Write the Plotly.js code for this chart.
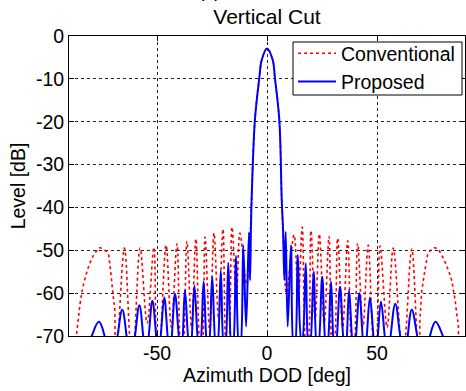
<!DOCTYPE html>
<html>
<head>
<meta charset="utf-8">
<script src="https://cdn.plot.ly/plotly-3.0.1.min.js"></script>
<style>html,body{margin:0;padding:0;background:#fff;}#plot{width:466px;height:391px;}</style>
</head>
<body>
<div id="plot"></div>
<script>
// Conventional (red dotted) pattern: azimuth [deg] and level [dB]
const convAz = [
  -90, -87.2, -86.8, -86.0, -85.3, -84.5, -83.8, -82.3, -80.8, -79.2, -77.7, -76.2, -72.4, -71.5, -70.8, -70.2, -69.7, -69.2, -68.7,
  -68.5, -64.8, -61.5,
  -61.1, -57.7, -54.5, -51.4, -49.7,
  -49.3, -45.9, -43.5, -40.9, -38.9,
  -38.5, -36.4, -34.3, -32.3, -30.1,
  -29.7, -28.2, -26.0, -24.1, -22.0, -20.0, -18.2,
  -17.8, -15.9, -13.9, -12.3, -9.2,
  -7.5, -7.0, -5.5, -3.5, -2.4, 0, 2.6, 3.6, 5.6, 6.7, 7.3,
  8.8, 12.3, 14.2, 16.0, 18.0,
  18.4, 20.0, 21.9, 23.8, 26.0, 28.2, 29.9,
  30.3, 32.1, 34.4, 36.7, 38.9,
  39.3, 41.2, 43.6, 46.0, 48.9,
  49.3, 51.4, 54.6, 57.4, 61.6,
  62.0, 65.8, 68.9,
  69.1, 69.5, 69.9, 70.3, 71.1, 71.8, 72.6, 73.3, 76.0, 77.9, 79.4, 80.9, 82.4, 83.9, 84.7, 85.5, 86.2, 87.0, 87.4, 90
];
const convDb = [
  -76, -74, -70.5, -67.1, -63.9, -60.8, -58.9, -55.8, -53.4, -51.5, -50.3, -49.4, -50.7, -53.0, -56.2, -59.3, -61.6, -63.9, -74,
  -74, -49.5, -74,
  -74, -49.5, -67, -49.3, -74,
  -74, -48.8, -68, -48.5, -74,
  -74, -47.9, -68, -47.3, -74,
  -74, -46.9, -69, -46.0, -66, -45.1, -74,
  -74, -44.6, -61, -46.0, -58,
  -45, -38.3, -19.6, -9.8, -5.6, -2.9, -5.6, -9.8, -19.6, -38.3, -45.3,
  -60, -46.4, -62, -44.6, -74,
  -74, -45.4, -66, -46.2, -67, -46.8, -74,
  -74, -47.2, -68, -47.8, -74,
  -74, -48.4, -68, -48.8, -74,
  -74, -49.0, -68, -49.5, -74,
  -74, -49.7, -74,
  -74, -66.3, -63.2, -60.0, -56.9, -54.6, -52.3, -50.7, -49.4, -49.9, -51.1, -52.7, -54.6, -56.9, -59.3, -61.6, -64.7, -67.8, -74, -76
];

// Proposed (blue solid) pattern
const propAz = [
  -90, -81.6, -76.4, -72.3,
  -69.6, -65.8, -62.5,
  -61.3, -58.0, -55.3,
  -54.7, -52.1, -49.5,
  -49.1, -46.7, -44.4,
  -44.0, -41.8, -39.3,
  -38.9, -37.3, -35.2,
  -34.8, -33.0, -30.9,
  -30.5, -28.8, -27.0,
  -26.6, -24.9, -23.1,
  -22.7, -21.0, -19.5,
  -19.1, -17.6, -16.0,
  -15.6, -14.1, -12.6,
  -12.2, -10.8, -9.5, -8.2, -7.7, -7.3,
  -7.0, -5.5, -3.5, -2.4, 0, 2.6, 3.6, 5.6, 6.7,
  7.3, 7.9, 8.5, 9.4, 10.9, 12.2,
  12.6, 14.0, 15.6,
  16.0, 17.6, 19.0,
  19.4, 21.2, 22.8,
  23.2, 25.1, 26.9,
  27.3, 29.1, 30.7,
  31.1, 33.2, 35.3,
  35.7, 37.3, 39.3,
  39.7, 42.0, 44.2,
  44.6, 46.8, 49.2,
  49.6, 51.8, 54.5,
  55.1, 58.3, 61.8,
  62.8, 65.8, 70.1,
  72.6, 76.6, 81.9, 90
];
const propDb = [
  -76, -72, -66.7, -72,
  -73, -63.9, -73,
  -73, -62.8, -73,
  -73, -61.8, -73,
  -73, -61.0, -73,
  -73, -60.2, -73,
  -73, -59.3, -73,
  -73, -58.3, -73,
  -73, -57.3, -73,
  -73, -56.2, -73,
  -73, -54.8, -73,
  -73, -52.9, -73,
  -73, -51.3, -73,
  -73, -48.8, -67.8, -45.8, -57, -45,
  -38.3, -19.6, -9.8, -5.6, -2.9, -5.6, -9.8, -19.6, -38.3,
  -45.3, -57, -45.7, -67.8, -48.8, -73,
  -73, -51.1, -71,
  -71, -53.0, -73,
  -73, -55.0, -73,
  -73, -56.2, -73,
  -73, -57.3, -73,
  -73, -58.5, -73,
  -73, -59.3, -73,
  -73, -60.0, -73,
  -73, -61.0, -73,
  -73, -62.0, -73,
  -73, -62.5, -73,
  -73, -63.9, -73,
  -72, -66.7, -72, -76
];

const xTicks = [-50, 0, 50];
const yTicks = [-70, -60, -50, -40, -30, -20, -10, 0];

const font = {family: 'Liberation Sans, Arial, sans-serif', size: 19.5, color: '#000'};

const traces = [
  {x: convAz, y: convDb, name: 'Conventional', type: 'scatter', mode: 'lines',
   line: {color: '#ff0000', width: 1.6, dash: 'dot', shape: 'spline', smoothing: 1}},
  {x: propAz, y: propDb, name: 'Proposed', type: 'scatter', mode: 'lines',
   line: {color: '#0000ff', width: 2, shape: 'spline', smoothing: 1}}
];

const axisCommon = {
  showline: true, linecolor: '#000', linewidth: 1, mirror: 'ticks',
  ticks: 'inside', ticklen: 5, tickcolor: '#000', tickwidth: 1,
  showgrid: true, gridcolor: '#222', griddash: 'dot', gridwidth: 1,
  zeroline: false, tickfont: font
};

const px2x = p => (p - 69) / 396;
const px2y = p => (336 - p) / 300;

const layout = {
  width: 466, height: 391,
  margin: {l: 69, r: 1, t: 36, b: 55},
  paper_bgcolor: '#fff', plot_bgcolor: '#fff',
  font: font,
  title: {text: 'Vertical Cut', font: {family: font.family, size: 21, color: '#000'},
          x: 0.5, xref: 'paper', xanchor: 'center', y: 1, yref: 'paper', yanchor: 'bottom', pad: {b: 12}},
  xaxis: Object.assign({}, axisCommon, {range: [-90, 90], tickvals: xTicks, ticktext: xTicks.map(String),
          title: {text: 'Azimuth DOD [deg]', font: font, standoff: 0}}),
  yaxis: Object.assign({}, axisCommon, {range: [-70, 0], tickvals: yTicks, ticktext: yTicks.map(String),
          title: {text: 'Level [dB]', font: font, standoff: 5}}),
  legend: {x: px2x(293), xanchor: 'left', y: px2y(34), yanchor: 'top', bgcolor: 'rgba(0,0,0,0)',
           borderwidth: 0, font: font, tracegroupgap: 0, itemwidth: 38},
  showlegend: true,
  shapes: [{type: 'rect', xref: 'paper', yref: 'paper', layer: 'above',
            x0: px2x(293), x1: px2x(462), y0: px2y(95), y1: px2y(42),
            fillcolor: '#fff', line: {color: '#000', width: 1}}],
  annotations: [{text: '(c)', xref: 'paper', yref: 'paper', x: px2x(209), y: px2y(3),
                 xanchor: 'center', yanchor: 'bottom', showarrow: false, font: font}]
};

Plotly.newPlot('plot', traces, layout, {displayModeBar: false, staticPlot: true});
</script>
</body>
</html>
